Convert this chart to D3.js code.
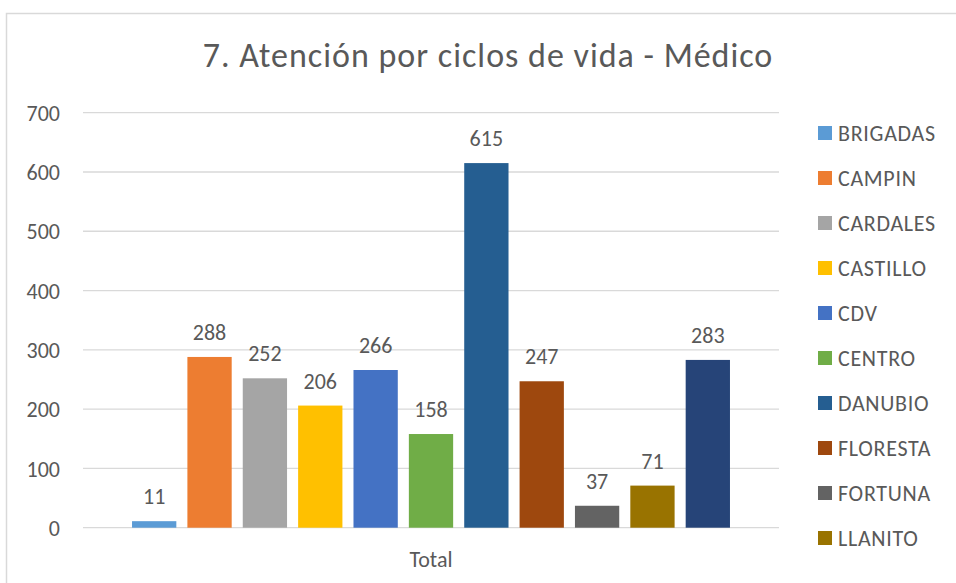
<!DOCTYPE html>
<html lang="es">
<head>
    <meta charset="UTF-8">
    <title>7. Atención por ciclos de vida - Médico</title>
    <script src="https://d3js.org/d3.v7.min.js"></script>
    <style>
        body { margin: 0; background: #fff; }
        svg text { font-family: Calibri, Carlito, Lato, sans-serif; fill: #595959; }
    </style>
</head>
<body>
    <div id="chart"></div>

    <script>
        // Datos
        const categories = ["Total"];
        const seriesNames = ["BRIGADAS", "CAMPIN", "CARDALES", "CASTILLO", "CDV", "CENTRO",
                             "DANUBIO", "FLORESTA", "FORTUNA", "LLANITO", "Serie 11"];
        const seriesValues = [11, 288, 252, 206, 266, 158, 615, 247, 37, 71, 283];
        const yTicks = [0, 100, 200, 300, 400, 500, 600, 700];
        // la leyenda del original queda cortada tras LLANITO
        const legendShown = 10;

        const colors = ["#5B9BD5", "#ED7D31", "#A5A5A5", "#FFC000", "#4472C4", "#70AD47",
                        "#255E91", "#9E480E", "#636363", "#997300", "#264478"];

        const W = 956, H = 583;
        const plot = { left: 83, right: 779, top: 112.7, bottom: 527.7 };

        const svg = d3.select("#chart").append("svg")
            .attr("width", W)
            .attr("height", H);

        // marco del gráfico
        svg.append("rect")
            .attr("x", 6.5).attr("y", 13.5)
            .attr("width", 1000).attr("height", 1000)
            .attr("fill", "#fff")
            .attr("stroke", "#D9D9D9")
            .attr("stroke-width", 1.5);

        // Titulo
        svg.append("text")
            .attr("x", 488)
            .attr("y", 67)
            .attr("text-anchor", "middle")
            .style("font-size", "34px")
            .style("letter-spacing", "1px")
            .text("7. Atención por ciclos de vida - Médico");

        // Escalas
        const y = d3.scaleLinear()
            .domain([0, 700])
            .range([plot.bottom, plot.top]);

        const x0 = d3.scaleBand()
            .domain(categories)
            .range([plot.left, plot.right])
            .paddingOuter(0.082);

        const x1 = d3.scaleBand()
            .domain(seriesNames)
            .range([0, x0.bandwidth()])
            .paddingInner(0.2);

        // Lineas de cuadricula
        svg.append("g")
            .selectAll("line")
            .data(yTicks)
            .enter()
            .append("line")
            .attr("x1", plot.left)
            .attr("x2", plot.right)
            .attr("y1", d => y(d))
            .attr("y2", d => y(d))
            .attr("stroke", "#D9D9D9")
            .attr("stroke-width", 1.3);

        // Eje Y
        const yAxis = svg.append("g")
            .attr("transform", `translate(${plot.left - 23},0)`)
            .call(d3.axisLeft(y).tickValues(yTicks).tickSize(0).tickPadding(0));
        yAxis.select(".domain").remove();
        yAxis.selectAll("text")
            .style("font-size", "22px")
            .attr("dy", "0.35em");

        // Eje X
        const xAxis = svg.append("g")
            .attr("transform", `translate(0,${plot.bottom})`)
            .call(d3.axisBottom(x0).tickSize(0).tickPadding(0));
        xAxis.select(".domain").remove();
        xAxis.selectAll("text")
            .style("font-size", "22px")
            .attr("y", 39)
            .attr("dy", 0);

        // Barras
        const bars = seriesNames.map((name, i) => ({ name: name, value: seriesValues[i], color: colors[i] }));

        const group = svg.append("g")
            .attr("transform", `translate(${x0("Total")},0)`);

        group.selectAll(".bar")
            .data(bars)
            .enter()
            .append("rect")
            .attr("class", "bar")
            .attr("x", d => x1(d.name))
            .attr("y", d => y(d.value))
            .attr("width", x1.bandwidth())
            .attr("height", d => y(0) - y(d.value))
            .attr("fill", d => d.color);

        // Etiquetas de datos
        group.selectAll(".label")
            .data(bars)
            .enter()
            .append("text")
            .attr("class", "label")
            .attr("x", d => x1(d.name) + x1.bandwidth() / 2)
            .attr("y", d => y(d.value) - 17)
            .attr("text-anchor", "middle")
            .style("font-size", "22px")
            .text(d => d.value);

        // Leyenda
        const legend = svg.append("g")
            .selectAll("g")
            .data(bars.slice(0, legendShown))
            .enter()
            .append("g")
            .attr("transform", (d, i) => `translate(818,${133 + i * 45})`);

        legend.append("rect")
            .attr("x", 0).attr("y", -7)
            .attr("width", 14).attr("height", 14)
            .attr("fill", d => d.color);

        legend.append("text")
            .attr("x", 20)
            .attr("y", 0)
            .attr("dy", "0.35em")
            .style("font-size", "22px")
            .style("letter-spacing", "0.7px")
            .text(d => d.name);
    </script>
</body>
</html>
